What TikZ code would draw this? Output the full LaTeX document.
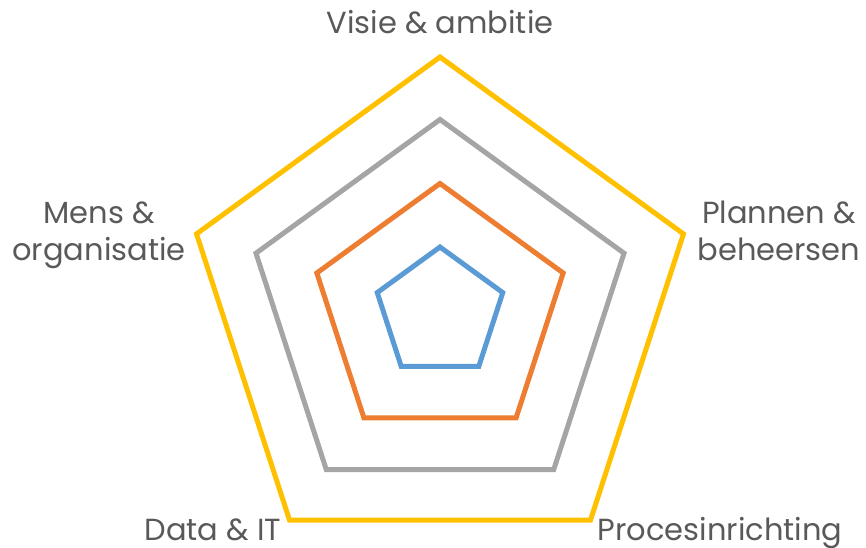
\documentclass[tikz,border=0pt]{standalone}
\usepackage{fontspec}
\setmainfont{Poppins}
\usetikzlibrary{calc}
\definecolor{ringyellow}{HTML}{FFC000}
\definecolor{ringgray}{HTML}{A5A5A5}
\definecolor{ringorange}{HTML}{ED7D31}
\definecolor{ringblue}{HTML}{5B9BD5}
\definecolor{labelgray}{HTML}{595959}
\tikzset{
  ring/.style={line width=5pt, line join=miter},
  axislabel/.style={text=labelgray, font=\fontsize{30.5}{37}\selectfont, inner sep=0pt, align=center, anchor=base},
}
\begin{document}
\begin{tikzpicture}[x=1pt, y=-1pt]
  \useasboundingbox (0,0) rectangle (866,547);
  \coordinate (c) at (440,313);
  % concentric pentagon rings, outermost first
  \foreach \r/\col in {256/ringyellow, 193.5/ringgray, 129.5/ringorange, 66/ringblue}{
    \draw[ring, \col] ($(c)+(-90:\r)$) -- ($(c)+(-18:\r)$) -- ($(c)+(54:\r)$)
      -- ($(c)+(126:\r)$) -- ($(c)+(198:\r)$) -- cycle;
  }
  % axis labels (two-line labels are placed by the baseline of their last line)
  \node[axislabel] (visie) at (440,33) {Visie \& ambitie};
  \node[axislabel] (plannen) at (779,260) {Plannen \&\\beheersen};
  \node[axislabel] (mens) at (99,260) {Mens \&\\organisatie};
  \node[axislabel] (data) at (213,540) {Data \& IT};
  \node[axislabel] (proces) at (720,540) {Procesinrichting};
\end{tikzpicture}
\end{document}
